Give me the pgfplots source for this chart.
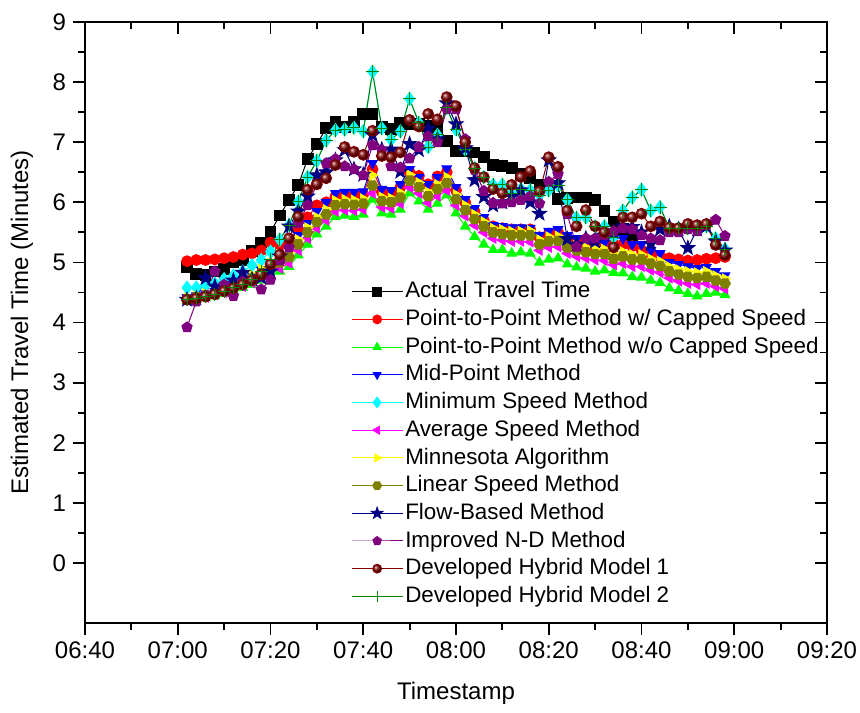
\documentclass[border=0pt]{standalone}
\usepackage{fontspec}
\setmainfont{Liberation Sans}
\usepackage{pgfplots}
\pgfplotsset{compat=1.18}
\usepackage{pgfplotstable}
\usetikzlibrary{plotmarks}

\definecolor{cBlack}{RGB}{0,0,0}
\definecolor{cRed}{RGB}{255,0,0}
\definecolor{cGreen}{RGB}{0,255,0}
\definecolor{cBlue}{RGB}{0,0,255}
\definecolor{cCyan}{RGB}{0,255,255}
\definecolor{cMagenta}{RGB}{255,0,255}
\definecolor{cYellow}{RGB}{255,255,0}
\definecolor{cOlive}{RGB}{128,128,0}
\definecolor{cNavy}{RGB}{0,0,128}
\definecolor{cPurple}{RGB}{128,0,128}
\definecolor{cWine}{RGB}{128,0,0}
\definecolor{cDkGreen}{RGB}{0,128,0}

\pgfdeclareplotmark{fstar}{%
 \pgfpathmoveto{\pgfpointpolar{90}{1.35\pgfplotmarksize}}%
 \pgfpathlineto{\pgfpointpolar{126}{0.55\pgfplotmarksize}}%
 \pgfpathlineto{\pgfpointpolar{162}{1.35\pgfplotmarksize}}%
 \pgfpathlineto{\pgfpointpolar{198}{0.55\pgfplotmarksize}}%
 \pgfpathlineto{\pgfpointpolar{234}{1.35\pgfplotmarksize}}%
 \pgfpathlineto{\pgfpointpolar{270}{0.55\pgfplotmarksize}}%
 \pgfpathlineto{\pgfpointpolar{306}{1.35\pgfplotmarksize}}%
 \pgfpathlineto{\pgfpointpolar{342}{0.55\pgfplotmarksize}}%
 \pgfpathlineto{\pgfpointpolar{18}{1.35\pgfplotmarksize}}%
 \pgfpathlineto{\pgfpointpolar{54}{0.55\pgfplotmarksize}}%
 \pgfpathclose\pgfusepathqfillstroke}
\pgfdeclareplotmark{hexa}{%
 \pgfpathmoveto{\pgfpointpolar{0}{\pgfplotmarksize}}%
 \pgfpathlineto{\pgfpointpolar{60}{\pgfplotmarksize}}%
 \pgfpathlineto{\pgfpointpolar{120}{\pgfplotmarksize}}%
 \pgfpathlineto{\pgfpointpolar{180}{\pgfplotmarksize}}%
 \pgfpathlineto{\pgfpointpolar{240}{\pgfplotmarksize}}%
 \pgfpathlineto{\pgfpointpolar{300}{\pgfplotmarksize}}%
 \pgfpathclose\pgfusepathqfillstroke}

\pgfplotstableread{
t act cap nocap mid mins avg minn lin flow ind hyb1 hyb2
422 4.92 5.02 4.36 4.42 4.58 4.37 4.41 4.39 4.38 3.92 4.38 4.38
424 4.81 5.04 4.38 4.45 4.58 4.40 4.44 4.42 4.40 4.35 4.40 4.40
426 4.79 5.04 4.41 4.48 4.62 4.42 4.48 4.45 4.74 4.45 4.43 4.43
428 4.85 5.05 4.44 4.52 4.65 4.46 4.53 4.49 4.60 4.85 4.47 4.47
430 4.89 5.07 4.48 4.58 4.72 4.50 4.59 4.54 4.58 4.63 4.52 4.52
432 5.00 5.09 4.53 4.64 4.78 4.55 4.66 4.60 4.70 4.44 4.57 4.58
434 5.04 5.13 4.58 4.70 4.85 4.60 4.72 4.66 4.83 4.68 4.63 4.64
436 5.19 5.15 4.63 4.78 4.95 4.66 4.80 4.73 4.72 4.70 4.70 4.72
438 5.33 5.20 4.70 4.88 5.04 4.74 4.89 4.82 4.75 4.55 4.80 4.85
440 5.51 5.33 4.78 4.98 5.18 4.83 4.99 4.92 4.85 4.71 4.97 5.05
442 5.78 5.30 4.85 5.08 5.38 4.90 5.07 5.00 5.10 5.03 5.13 5.38
444 6.04 5.32 4.93 5.20 5.62 4.99 5.16 5.09 5.60 5.25 5.40 5.62
446 6.29 5.55 5.12 5.45 6.01 5.20 5.38 5.30 5.85 5.65 5.76 6.01
448 6.72 5.75 5.30 5.65 6.42 5.40 5.58 5.50 6.10 5.95 6.21 6.42
450 6.97 5.95 5.47 5.85 6.69 5.57 5.75 5.67 6.45 6.30 6.30 6.69
452 7.23 6.00 5.60 6.00 7.03 5.70 5.88 5.80 6.50 6.65 6.40 7.03
454 7.33 6.10 5.76 6.15 7.20 5.85 6.03 5.95 6.70 6.72 6.62 7.20
456 7.25 6.12 5.78 6.17 7.21 5.87 6.05 5.97 6.87 6.60 6.92 7.21
458 7.33 6.12 5.76 6.17 7.24 5.86 6.04 5.96 6.55 6.55 6.84 7.24
460 7.47 6.13 5.80 6.18 7.18 5.88 6.06 5.98 6.46 6.45 6.79 7.18
462 7.47 6.55 6.05 6.65 8.17 6.15 6.45 6.28 7.12 6.95 7.19 8.17
464 7.25 6.18 5.82 6.22 7.23 5.92 6.09 6.02 6.88 6.87 6.77 7.23
466 7.22 6.15 5.80 6.20 7.04 5.90 6.07 6.00 6.88 6.60 6.75 7.04
468 7.32 6.25 5.88 6.30 7.18 5.98 6.16 6.08 6.51 6.58 6.83 7.18
470 7.30 6.50 6.15 6.55 7.72 6.25 6.46 6.36 6.97 6.73 7.37 7.72
472 7.30 6.44 6.02 6.42 7.32 6.15 6.33 6.25 6.87 6.92 7.26 7.32
474 7.27 6.30 5.88 6.30 6.92 5.99 6.17 6.10 7.23 7.10 7.47 6.92
476 7.23 6.43 5.98 6.42 7.12 6.10 6.30 6.22 7.05 7.00 7.38 7.12
478 7.02 6.50 6.12 6.56 7.57 6.20 6.42 6.32 7.65 7.55 7.75 7.57
480 6.86 6.20 5.82 6.25 7.21 5.95 6.13 6.05 7.30 7.55 7.60 7.21
482 6.85 6.00 5.60 6.05 6.88 5.77 5.95 5.87 6.90 7.05 7.00 6.88
484 6.83 5.85 5.43 5.90 6.57 5.62 5.80 5.72 6.37 6.54 6.57 6.57
486 6.75 5.70 5.30 5.75 6.42 5.50 5.68 5.60 6.09 6.19 6.42 6.42
488 6.62 5.60 5.21 5.62 6.29 5.40 5.57 5.50 5.95 5.99 6.22 6.29
490 6.60 5.57 5.21 5.60 6.29 5.37 5.55 5.47 6.00 5.98 6.15 6.29
492 6.57 5.55 5.15 5.58 6.15 5.35 5.52 5.45 6.10 6.00 6.29 6.15
494 6.47 5.55 5.17 5.58 6.22 5.35 5.52 5.45 6.20 6.04 6.42 6.22
496 6.40 5.55 5.15 5.57 6.20 5.34 5.53 5.45 6.00 6.10 6.52 6.20
498 6.29 5.42 5.00 5.45 6.12 5.20 5.38 5.30 5.81 5.98 6.18 6.12
500 6.25 5.48 5.05 5.52 6.20 5.25 5.43 5.35 6.70 6.34 6.75 6.20
502 6.06 5.50 5.07 5.55 6.28 5.26 5.44 5.36 6.32 6.47 6.59 6.28
504 6.07 5.40 4.97 5.45 6.04 5.15 5.33 5.25 5.39 5.80 5.86 6.04
506 6.08 5.35 4.92 5.40 5.74 5.10 5.28 5.20 5.30 5.26 5.60 5.74
508 6.08 5.30 4.90 5.37 5.75 5.07 5.25 5.17 5.40 5.40 5.87 5.75
510 6.04 5.21 4.85 5.30 5.60 5.04 5.22 5.14 5.35 5.40 5.60 5.60
512 5.85 5.33 4.87 5.32 5.60 5.03 5.22 5.14 5.45 5.45 5.50 5.60
514 5.68 5.30 4.83 5.25 5.42 4.96 5.14 5.06 5.50 5.52 5.25 5.42
516 5.55 5.30 4.82 5.40 5.86 4.98 5.18 5.10 5.60 5.57 5.75 5.86
518 5.40 5.27 4.76 5.30 6.08 4.93 5.13 5.05 5.59 5.55 5.75 6.08
520 nan 5.20 4.75 5.30 6.21 4.93 5.13 5.05 5.50 5.45 5.81 6.21
522 nan 5.15 4.70 5.20 5.86 4.87 5.06 4.98 5.31 5.40 5.60 5.86
524 nan 5.10 4.66 5.15 5.92 4.83 5.02 4.94 5.55 5.37 5.68 5.92
526 nan 5.07 4.57 5.00 5.57 4.74 4.93 4.85 5.60 5.50 5.58 5.57
528 nan 5.05 4.53 4.97 5.57 4.69 4.88 4.80 5.55 5.50 5.57 5.57
530 nan 5.03 4.48 4.93 5.57 4.65 4.85 4.76 5.24 5.55 5.64 5.57
532 nan 5.04 4.44 4.90 5.57 4.63 4.83 4.74 5.55 5.52 5.62 5.57
534 nan 5.06 4.48 4.92 5.60 4.65 4.85 4.76 5.60 5.62 5.64 5.60
536 nan 5.07 4.50 4.85 5.40 4.60 4.78 4.70 5.35 5.71 5.29 5.40
538 nan 5.09 4.46 4.78 5.22 4.56 4.73 4.65 5.20 5.44 5.12 5.22
}\data

\begin{document}
\begin{tikzpicture}
\pgfplotsset{
  myframe/.style={
    scale only axis, width=371pt, height=300.5pt,
    xmin=400, xmax=560, ymin=-1, ymax=9,
    xtick={400,420,...,560}, ytick={0,...,9},
    minor x tick num=1, minor y tick num=1,
    major tick length=6pt, minor tick length=3.5pt,
    tick style={line width=0.9pt,black},
    axis line style={line width=1pt},
  }
}
\begin{axis}[myframe, name=main,
  xtick pos=left, ytick pos=left, tick align=outside,
  xticklabels={06:40,07:00,07:20,07:40,08:00,08:20,08:40,09:00,09:20},
  ticklabel style={font=\fontsize{12}{14}\selectfont},
  label style={font=\fontsize{12}{14}\selectfont},
  /pgf/number format/assume math mode=true,
  xlabel={Timestamp}, ylabel={Estimated Travel Time (Minutes)},
  xlabel style={at={(axis description cs:0.5,-0.1165)},anchor=center},
  ylabel style={at={(axis description cs:-0.085,0.5)},anchor=center},
  every axis plot/.append style={line width=0.5pt, mark size=2.7pt},
  legend style={at={(axis description cs:0.358,0.575)}, anchor=north west,
    draw=none, fill=none, inner sep=0pt, row sep=0pt,
    font=\fontsize{11.2}{13}\selectfont,
    nodes={inner sep=1pt, text height=9pt, text depth=2.85pt}},
  legend cell align=left,
  legend image code/.code={\draw[mark repeat=2,mark phase=2,mark size=2.2pt,#1] plot coordinates {(0cm,0cm) (0.45cm,0cm) (0.9cm,0cm)};},
]
\addplot[color=cBlack, mark=square*, mark options={solid,fill=cBlack}] table[x=t,y=act]{\data};
\addlegendentry{Actual Travel Time}
\addplot[color=cRed, mark=*, mark options={solid,fill=cRed}] table[x=t,y=cap]{\data};
\addlegendentry{Point-to-Point Method w/ Capped Speed}
\addplot[color=cGreen, mark=triangle*, mark options={solid,fill=cGreen}] table[x=t,y=nocap]{\data};
\addlegendentry{Point-to-Point Method w/o Capped Speed}
\addplot[color=cBlue, mark=triangle*, mark options={solid,fill=cBlue,rotate=180}] table[x=t,y=mid]{\data};
\addlegendentry{Mid-Point Method}
\addplot[color=cCyan, mark=diamond*, mark options={solid,fill=cCyan,scale=1.2}] table[x=t,y=mins]{\data};
\addlegendentry{Minimum Speed Method}
\addplot[color=cMagenta, mark=triangle*, mark options={solid,fill=cMagenta,rotate=90}] table[x=t,y=avg]{\data};
\addlegendentry{Average Speed Method}
\addplot[color=cYellow, mark=triangle*, mark options={solid,fill=cYellow,rotate=-90}] table[x=t,y=minn]{\data};
\addlegendentry{Minnesota Algorithm}
\addplot[color=cOlive, mark=hexa, mark options={solid,fill=cOlive}] table[x=t,y=lin]{\data};
\addlegendentry{Linear Speed Method}
\addplot[color=cNavy, mark=fstar, mark options={solid,fill=cNavy}] table[x=t,y=flow]{\data};
\addlegendentry{Flow-Based Method}
\addplot[color=cPurple, mark=pentagon*, mark options={solid,fill=cPurple}] table[x=t,y=ind]{\data};
\addlegendentry{Improved N-D Method}
\addplot[color=cWine, mark=ball, mark options={solid,ball color=cWine}] table[x=t,y=hyb1]{\data};
\addlegendentry{Developed Hybrid Model 1}
\addplot[color=cDkGreen, mark=+, mark options={solid,scale=1.2}] table[x=t,y=hyb2]{\data};
\addlegendentry{Developed Hybrid Model 2}
\end{axis}
\begin{axis}[myframe, xtick pos=right, ytick pos=right, tick align=inside,
  xticklabels={}, yticklabels={}]
\end{axis}
\pgfresetboundingbox
\path[use as bounding box] ([xshift=-42.5pt,yshift=-44.5pt]main.south west) rectangle ([xshift=16.5pt,yshift=11pt]main.north east);
\end{tikzpicture}
\end{document}
